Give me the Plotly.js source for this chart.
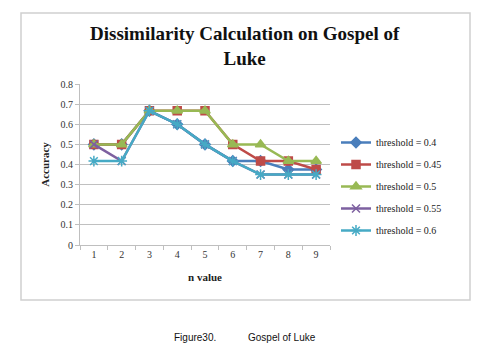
<!DOCTYPE html>
<html>
<head>
<meta charset="utf-8">
<script src="https://cdn.plot.ly/plotly-3.0.1.min.js"></script>
<style>
html,body{margin:0;padding:0;background:#fff;}
#chart{width:487px;height:358px;}
</style>
</head>
<body>
<div id="chart"></div>
<script>
const nValues = ['1','2','3','4','5','6','7','8','9'];
const thr040 = [0.5, 0.5, 0.667, 0.6, 0.5, 0.417, 0.417, 0.375, 0.375];
const thr045 = [0.5, 0.5, 0.667, 0.667, 0.667, 0.5, 0.417, 0.417, 0.375];
const thr050 = [0.5, 0.5, 0.667, 0.667, 0.667, 0.5, 0.5, 0.417, 0.417];
const thr055 = [0.5, 0.417, 0.667, 0.6, 0.5, 0.417, 0.35, 0.35, 0.35];
const thr060 = [0.417, 0.417, 0.667, 0.6, 0.5, 0.417, 0.35, 0.35, 0.35];
const seriesNames = ['threshold = 0.4','threshold = 0.45','threshold = 0.5','threshold = 0.55','threshold = 0.6'];
const yTicks = [0,0.1,0.2,0.3,0.4,0.5,0.6,0.7,0.8];
const yTickText = ['0','0.1','0.2','0.3','0.4','0.5','0.6','0.7','0.8'];

const W = 487, H = 358;
const px = v => v / W;
const py = v => (H - v) / H;

const serif = '"Liberation Serif", "DejaVu Serif", serif';
const styles = [
  {color:'#4a7ebb', symbol:'diamond', size:8},
  {color:'#be4b48', symbol:'square', size:8},
  {color:'#98b954', symbol:'triangle-up', size:9},
  {color:'#7d60a0', symbol:'x-thin-open', size:8},
  {color:'#46aac5', symbol:'asterisk-open', size:9}
];
const allSeries = [thr040, thr045, thr050, thr055, thr060];
const traces = allSeries.map((ys, i) => ({
  x: nValues, y: ys, name: seriesNames[i], type: 'scatter', mode: 'lines+markers',
  legendgroup: 'g' + i,
  line: {color: styles[i].color, width: 2.5},
  marker: {color: styles[i].color, symbol: styles[i].symbol, size: styles[i].size,
           line: {color: styles[i].color, width: 1.5}}
}));

const layout = {
  width: W, height: H,
  margin: {l:0, r:0, t:0, b:0},
  paper_bgcolor: '#fff', plot_bgcolor: '#fff',
  font: {family: serif, size: 10, color: '#333'},
  showlegend: true,
  legend: {x: px(336), y: py(128), xanchor: 'left', yanchor: 'top',
           font: {family: serif, size: 10, color: '#222'}, tracegroupgap: 3,
           bgcolor: 'rgba(0,0,0,0)'},
  xaxis: {
    domain: [px(80), px(330)], type: 'category', categoryorder: 'array', categoryarray: nValues,
    range: [-0.5, 8.5], showgrid: false, showline: true, linecolor: '#bfbfbf', linewidth: 1,
    ticks: 'outside', tickson: 'boundaries', ticklen: 4, tickcolor: '#bfbfbf',
    tickfont: {family: serif, size: 10, color: '#333'}, zeroline: false,
    title: {text: '<b>n value</b>', font: {family: serif, size: 11, color: '#222'}, standoff: 14}
  },
  yaxis: {
    domain: [py(245), py(84)], range: [0, 0.8], tickvals: yTicks, ticktext: yTickText,
    showgrid: true, gridcolor: '#c0c0c0', gridwidth: 1, showline: true, linecolor: '#bfbfbf',
    ticks: 'outside', ticklen: 4, tickcolor: '#bfbfbf', zeroline: false,
    tickfont: {family: serif, size: 10, color: '#333'},
    title: {text: '<b>Accuracy</b>', font: {family: serif, size: 11, color: '#222'}, standoff: 8}
  },
  shapes: [
    {type: 'rect', xref: 'paper', yref: 'paper', x0: px(21), x1: px(470), y0: py(300), y1: py(13),
     line: {color: '#d0d0d0', width: 1.5}, fillcolor: 'rgba(0,0,0,0)', layer: 'below'}
  ],
  annotations: [
    {xref: 'paper', yref: 'paper', x: px(245), y: py(46), xanchor: 'center', yanchor: 'middle',
     text: '<b>Dissimilarity Calculation on Gospel of<br>Luke</b>', showarrow: false,
     font: {family: serif, size: 19, color: '#111'}},
    {xref: 'paper', yref: 'paper', x: px(172), y: py(337), xanchor: 'left', yanchor: 'middle',
     text: 'Figure30.', showarrow: false,
     font: {family: '"Liberation Sans", Arial, sans-serif', size: 10, color: '#111'}},
    {xref: 'paper', yref: 'paper', x: px(246), y: py(337), xanchor: 'left', yanchor: 'middle',
     text: 'Gospel of Luke', showarrow: false,
     font: {family: '"Liberation Sans", Arial, sans-serif', size: 10, color: '#111'}}
  ]
};

Plotly.newPlot('chart', traces, layout, {displayModeBar: false, staticPlot: true});
</script>
</body>
</html>
